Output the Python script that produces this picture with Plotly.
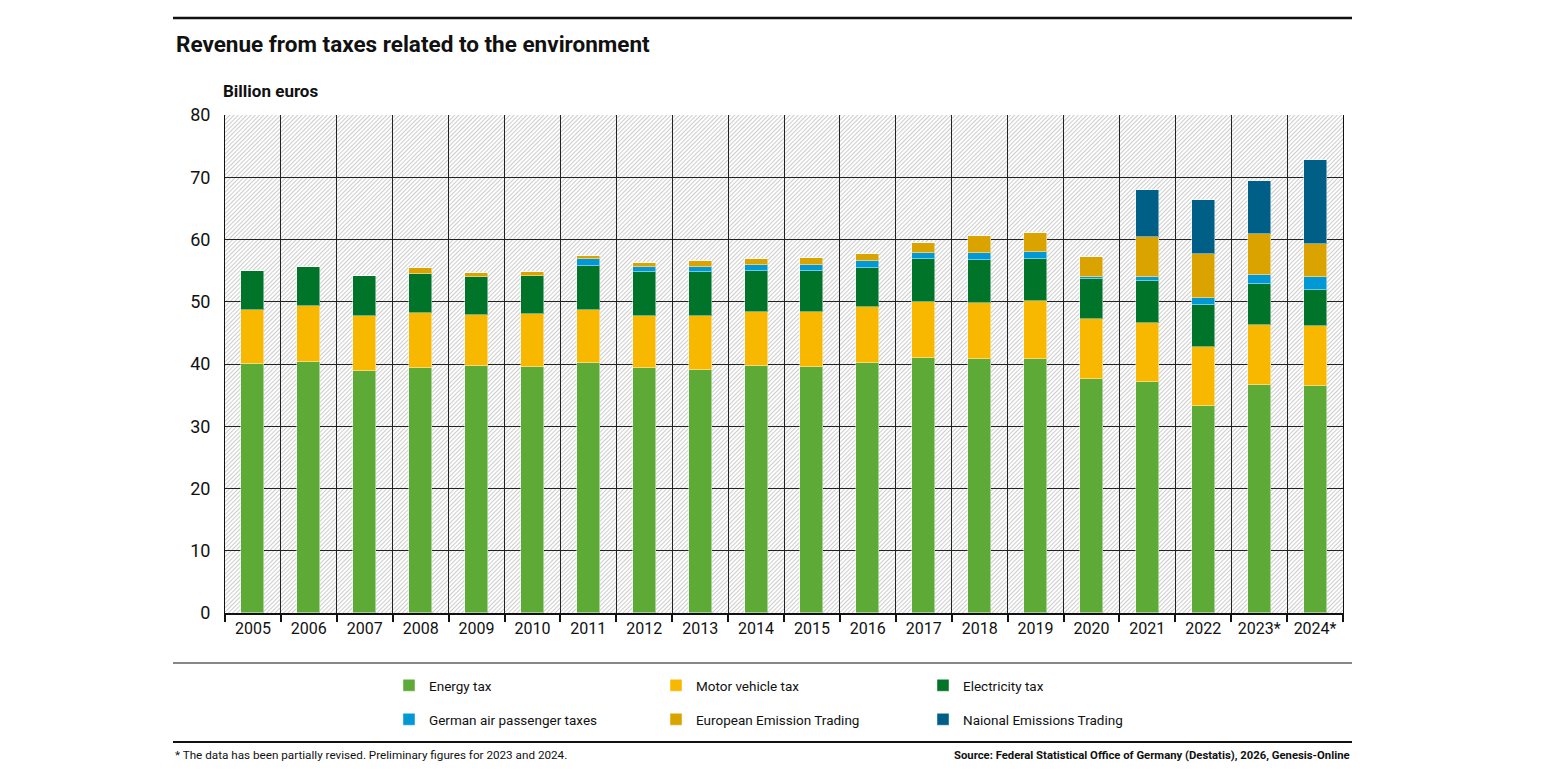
import base64
import plotly.graph_objects as go

# Einnahmen aus umweltbezogenen Steuern, Mrd. Euro
years = ["2005", "2006", "2007", "2008", "2009", "2010", "2011", "2012", "2013", "2014",
         "2015", "2016", "2017", "2018", "2019", "2020", "2021", "2022", "2023*", "2024*"]

energy_tax = [40.0, 40.3, 38.8, 39.3, 39.6, 39.5, 40.2, 39.3, 39.1, 39.7,
              39.5, 40.1, 40.9, 40.8, 40.8, 37.6, 37.1, 33.3, 36.7, 36.5]
motor_vehicle_tax = [8.7, 9.0, 8.9, 8.9, 8.2, 8.5, 8.4, 8.4, 8.6, 8.6,
                     8.9, 9.0, 9.0, 9.0, 9.4, 9.6, 9.5, 9.4, 9.5, 9.65]
electricity_tax = [6.3, 6.3, 6.4, 6.2, 6.2, 6.2, 7.2, 7.0, 7.0, 6.7,
                   6.5, 6.4, 6.9, 6.9, 6.6, 6.4, 6.8, 6.8, 6.6, 5.75]
air_passenger_tax = [0, 0, 0, 0, 0, 0, 1.1, 0.9, 0.9, 0.9,
                     1.0, 1.1, 1.1, 1.2, 1.2, 0.4, 0.6, 1.15, 1.5, 2.0]
eu_emission_trading = [0, 0, 0, 1.1, 0.6, 0.6, 0.5, 0.7, 0.9, 0.9,
                       1.1, 1.0, 1.5, 2.7, 3.1, 3.2, 6.35, 6.95, 6.6, 5.4]
national_emission_trading = [0, 0, 0, 0, 0, 0, 0, 0, 0, 0,
                             0, 0, 0, 0, 0, 0, 7.65, 8.7, 8.55, 13.4]

series_names = ["Energy tax", "Motor vehicle tax", "Electricity tax",
                "German air passenger taxes", "European Emission Trading",
                "Naional Emissions Trading"]
series_colors = ["#5DAA37", "#F8B800", "#007428", "#0099D5", "#DBA300", "#005F86"]

y_max = 80
y_ticks = [0, 10, 20, 30, 40, 50, 60, 70, 80]

FONT = "Roboto"

# page pixel layout; the html body has an 8px margin, so the figure is shifted
OFF = 8
W, H = 1545 - 2 * OFF, 775 - 2 * OFF
PLOT_L, PLOT_R, PLOT_T, PLOT_B = 225, 1343, 115, 613   # page coords of plot area
L, T = PLOT_L - OFF, PLOT_T - OFF
R, B = W - (PLOT_R - OFF), H - (PLOT_B - OFF)
PW, PH = PLOT_R - PLOT_L, PLOT_B - PLOT_T


def px_x(px):
    return (px - PLOT_L) / PW


def px_y(py):
    return (PLOT_B - py) / PH


# schraffierter Hintergrund als SVG-Bild
hatch_svg = (
    f'<svg xmlns="http://www.w3.org/2000/svg" width="{PW}" height="{PH}">'
    '<defs><pattern id="h" width="3" height="3" patternUnits="userSpaceOnUse" '
    'patternTransform="rotate(45)">'
    '<line x1="0.5" y1="0" x2="0.5" y2="3" stroke="#cdcdcd" stroke-width="1.1"/>'
    '</pattern></defs>'
    f'<rect width="{PW}" height="{PH}" fill="white"/>'
    f'<rect width="{PW}" height="{PH}" fill="url(#h)"/></svg>'
)
hatch_uri = "data:image/svg+xml;base64," + base64.b64encode(hatch_svg.encode()).decode()

data = [energy_tax, motor_vehicle_tax, electricity_tax,
        air_passenger_tax, eu_emission_trading, national_emission_trading]

traces = []
for i, (name, vals, col) in enumerate(zip(series_names, data, series_colors)):
    traces.append(go.Bar(
        x=years, y=vals, name=name, width=0.41,
        marker=dict(color=col, line=dict(color="rgba(255,255,255,0.45)", width=1)),
        legend="legend" if i < 3 else "legend2",
    ))

fig = go.Figure(data=traces)

legend_common = dict(
    orientation="h", xanchor="left", yanchor="top", traceorder="normal",
    entrywidth=222, itemwidth=30, font=dict(family=FONT, size=13.5, color="#111"),
    bgcolor="rgba(0,0,0,0)",
)

fig.update_layout(
    width=W, height=H,
    margin=dict(l=L, r=R, t=T, b=B, autoexpand=False),
    paper_bgcolor="white", plot_bgcolor="rgba(0,0,0,0)",
    barmode="stack", bargap=0,
    font=dict(family=FONT, size=15, color="#111"),
    xaxis=dict(
        type="category", tickson="boundaries",
        showgrid=True, gridcolor="#222", gridwidth=1,
        showline=True, linecolor="#111", linewidth=2,
        ticks="outside", ticklen=7, tickcolor="#111", tickwidth=1.5,
        tickfont=dict(family=FONT, size=16, color="#111"),
        range=[-0.5, len(years) - 0.5],
    ),
    yaxis=dict(
        range=[0, y_max], tickvals=y_ticks,
        showgrid=True, gridcolor="#222", gridwidth=1,
        showline=True, mirror=True, linecolor="#111", linewidth=1,
        ticks="", tickfont=dict(family=FONT, size=18, color="#111"),
        ticklabelstandoff=10, zeroline=False,
    ),
    legend=dict(legend_common, x=px_x(389), y=px_y(670)),
    legend2=dict(legend_common, x=px_x(389), y=px_y(704)),
    images=[dict(source=hatch_uri, xref="paper", yref="paper", x=0, y=1,
                 sizex=1, sizey=1, xanchor="left", yanchor="top",
                 sizing="stretch", layer="below")],
)

# Linien oben, unter den Achsenbeschriftungen und über der Fußnote
fig.add_shape(type="line", xref="paper", yref="paper",
              x0=px_x(173), x1=px_x(1352), y0=px_y(18), y1=px_y(18),
              line=dict(color="#111", width=2.5))
fig.add_shape(type="line", xref="paper", yref="paper",
              x0=px_x(173), x1=px_x(1352), y0=px_y(663), y1=px_y(663),
              line=dict(color="#111", width=1.2))
fig.add_shape(type="line", xref="paper", yref="paper",
              x0=px_x(173), x1=px_x(1352), y0=px_y(742), y1=px_y(742),
              line=dict(color="#111", width=2))

fig.add_annotation(text="<b>Revenue from taxes related to the environment</b>",
                   xref="paper", yref="paper", x=px_x(174), y=px_y(44),
                   xanchor="left", yanchor="middle", showarrow=False,
                   font=dict(family=FONT, size=22.5, color="#111"))
fig.add_annotation(text="<b>Billion euros</b>",
                   xref="paper", yref="paper", x=px_x(221), y=px_y(91),
                   xanchor="left", yanchor="middle", showarrow=False,
                   font=dict(family=FONT, size=17, color="#111"))
fig.add_annotation(text="* The data has been partially revised. Preliminary figures for 2023 and 2024.",
                   xref="paper", yref="paper", x=px_x(173), y=px_y(755),
                   xanchor="left", yanchor="middle", showarrow=False,
                   font=dict(family=FONT, size=11.7, color="#111"))
fig.add_annotation(text="<b>Source: Federal Statistical Office of Germany (Destatis), 2026, Genesis-Online</b>",
                   xref="paper", yref="paper", x=px_x(1352), y=px_y(755),
                   xanchor="right", yanchor="middle", showarrow=False,
                   font=dict(family=FONT, size=11.3, color="#111"))

fig.write_html("out.html")
